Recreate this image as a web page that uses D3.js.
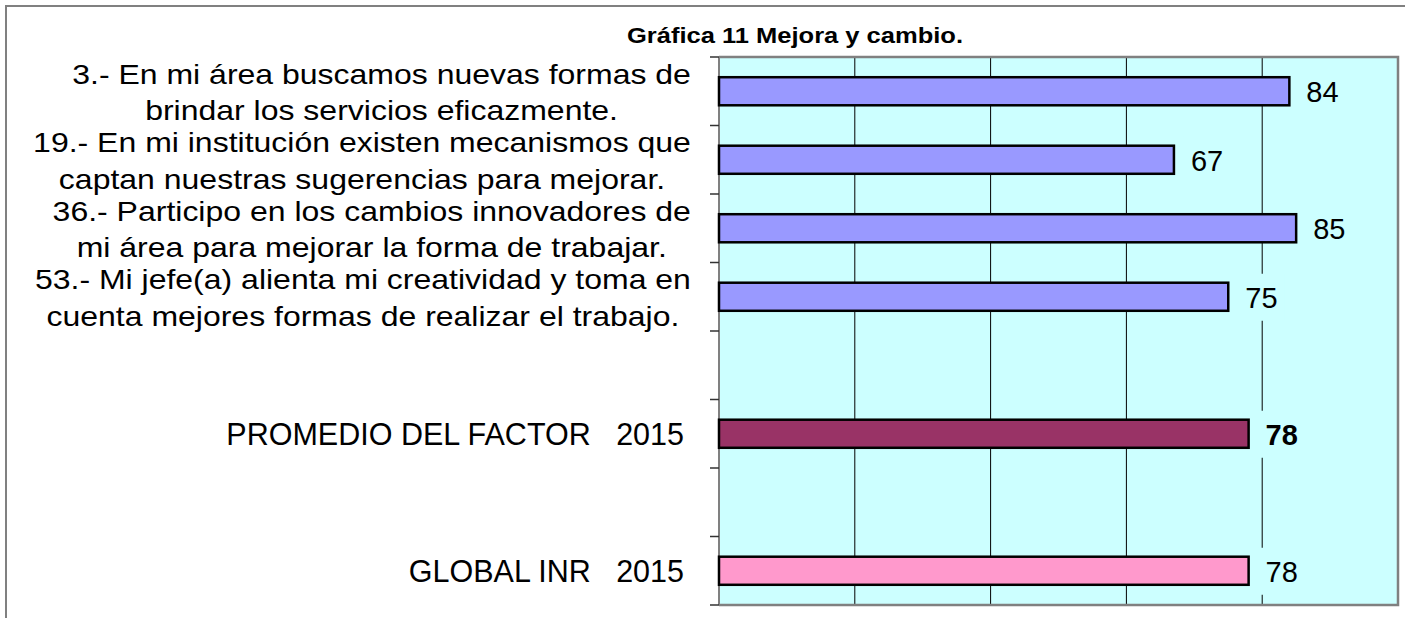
<!DOCTYPE html>
<html>
<head>
<meta charset="utf-8">
<script src="https://cdn.jsdelivr.net/npm/d3@7"></script>
<style>
  body { margin: 0; background: #fff; }
  text { font-family: "Liberation Sans", Arial, sans-serif; }
</style>
</head>
<body>
<svg id="chart"></svg>
<script>
// Chart data
const title = "Gráfica 11 Mejora y cambio.";
const categories = [
  "3.- En mi área buscamos nuevas formas de\nbrindar los servicios eficazmente.",
  "19.- En mi institución existen mecanismos que\ncaptan nuestras sugerencias para mejorar.",
  "36.- Participo en los cambios innovadores de\nmi área para mejorar la forma de trabajar.",
  "53.- Mi jefe(a) alienta mi creatividad y toma en\ncuenta mejores formas de realizar el trabajo.",
  "",
  "PROMEDIO DEL FACTOR   2015",
  "",
  "GLOBAL INR   2015"
];
const values = [84, 67, 85, 75, null, 78, null, 78];
const barColors = ["#9999FF", "#9999FF", "#9999FF", "#9999FF", null, "#993366", null, "#FF99CC"];
const boldValue = [false, false, false, false, false, true, false, false];
const xTicks = [0, 20, 40, 60, 80, 100];

const width = 1405;
const height = 618;
const plot = { left: 719, top: 57, right: 1398, bottom: 605 };
const plotBg = "#CCFFFF";

const svg = d3.select("#chart").attr("width", width).attr("height", height);

// Outer frame (only top and left show in the window)
svg.append("path")
  .attr("d", `M6,${height} L6,6 L${width},6`)
  .attr("fill", "none")
  .attr("stroke", "#808080")
  .attr("stroke-width", 2);

const x = d3.scaleLinear().domain([0, 100]).range([plot.left, plot.right]);
const y = d3.scaleBand()
  .domain(d3.range(categories.length))
  .range([plot.top, plot.bottom]);

const barH = y.bandwidth() * 0.41;

// Plot background
svg.append("rect")
  .attr("x", plot.left)
  .attr("y", plot.top)
  .attr("width", plot.right - plot.left)
  .attr("height", plot.bottom - plot.top)
  .attr("fill", plotBg);

// Vertical gridlines
svg.append("g")
  .selectAll("line")
  .data(xTicks.slice(1, -1))
  .enter()
  .append("line")
  .attr("x1", d => x(d))
  .attr("x2", d => x(d))
  .attr("y1", plot.top)
  .attr("y2", plot.bottom)
  .attr("stroke", "#000")
  .attr("stroke-width", 1);

// Plot border (top, right, bottom)
svg.append("path")
  .attr("d", `M${plot.left},${plot.top} L${plot.right},${plot.top} L${plot.right},${plot.bottom} L${plot.left},${plot.bottom}`)
  .attr("fill", "none")
  .attr("stroke", "#808080")
  .attr("stroke-width", 2.5);

// Category axis with ticks at band boundaries
svg.append("line")
  .attr("x1", plot.left).attr("x2", plot.left)
  .attr("y1", plot.top).attr("y2", plot.bottom)
  .attr("stroke", "#808080")
  .attr("stroke-width", 2);

svg.append("g")
  .selectAll("line")
  .data(d3.range(categories.length + 1))
  .enter()
  .append("line")
  .attr("x1", plot.left - 9)
  .attr("x2", plot.left)
  .attr("y1", d => d < categories.length ? y(d) : plot.bottom)
  .attr("y2", d => d < categories.length ? y(d) : plot.bottom)
  .attr("stroke", "#333")
  .attr("stroke-width", 1.5);

const rows = categories.map((c, i) => ({ label: c, value: values[i], color: barColors[i], bold: boldValue[i], i }));
const barRows = rows.filter(d => d.value != null);

// Bars
svg.append("g")
  .selectAll("rect")
  .data(barRows)
  .enter()
  .append("rect")
  .attr("x", x(0))
  .attr("y", d => y(d.i) + (y.bandwidth() - barH) / 2)
  .attr("width", d => x(d.value) - x(0))
  .attr("height", barH)
  .attr("fill", d => d.color)
  .attr("stroke", "#000")
  .attr("stroke-width", 2.5);

// Value labels with a background box that hides the gridline behind them
const valueG = svg.append("g");
barRows.forEach(d => {
  const cy = y(d.i) + y.bandwidth() / 2;
  const g = valueG.append("g");
  const box = g.append("rect").attr("fill", plotBg);
  const t = g.append("text")
    .attr("x", x(d.value) + 17)
    .attr("y", cy + 11)
    .attr("font-size", 29)
    .attr("font-weight", d.bold ? "bold" : "normal")
    .attr("fill", "#000")
    .text(d.value);
  const w = t.node().getComputedTextLength();
  box.attr("x", x(d.value) + 10)
    .attr("y", cy - 23)
    .attr("width", w + 14)
    .attr("height", 47);
});

// Category labels
const labelRight = 691;
const labelG = svg.append("g");
rows.filter(d => d.label).forEach(d => {
  const cy = y(d.i) + y.bandwidth() / 2;
  const lines = d.label.split("\n");
  if (lines.length > 1) {
    const lh = 36.5;
    const sx = 1.185;
    const t = labelG.append("text")
      .attr("font-size", 27)
      .attr("text-anchor", "middle")
      .attr("fill", "#000");
    lines.forEach((ln, k) => {
      t.append("tspan")
        .attr("x", 0)
        .attr("y", k * lh)
        .text(ln);
    });
    const bb = t.node().getBBox();
    t.attr("transform", `translate(${labelRight - bb.width * sx / 2},${cy - 7.5}) scale(${sx},1)`);
  } else {
    labelG.append("text")
      .attr("x", 684)
      .attr("y", cy + 11)
      .attr("font-size", 30.5)
      .attr("text-anchor", "end")
      .attr("fill", "#000")
      .style("white-space", "pre")
      .text(d.label);
  }
});

// Title
svg.append("text")
  .attr("text-anchor", "start")
  .attr("font-size", 22)
  .attr("font-weight", "bold")
  .attr("fill", "#000")
  .attr("transform", "translate(627,43) scale(1.16,1)")
  .text(title);
</script>
</body>
</html>
